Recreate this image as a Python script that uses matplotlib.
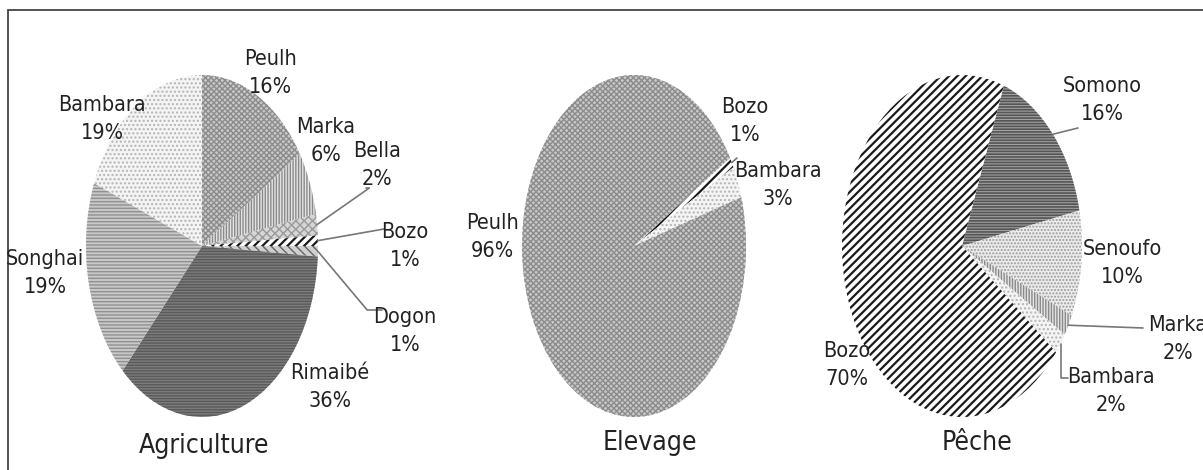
import numpy as np
import matplotlib.pyplot as plt
from matplotlib.patches import Rectangle

plt.rcParams['font.family'] = ['DejaVu Sans']
plt.rcParams['font.stretch'] = 'condensed'
plt.rcParams['hatch.linewidth'] = 1.0

# shares by ethnic group (%)
agri_labels = ['Peulh', 'Marka', 'Bella', 'Bozo', 'Dogon', 'Rimaibé', 'Songhai', 'Bambara']
agri_values = [16, 6, 2, 1, 1, 36, 19, 19]

elev_labels = ['Bozo', 'Bambara', 'Peulh']
elev_values = [1, 3, 96]

peche_labels = ['Somono', 'Senoufo', 'Marka', 'Bambara', 'Bozo']
peche_values = [16, 10, 2, 2, 70]

W, H = 1203, 470
fig = plt.figure(figsize=(W / 100, H / 100), dpi=100)
fig.patch.set_facecolor('white')

# (face, hatch, hatch colour, hatch width) per group
styles = {
    'Peulh':   ('#c8c8c8', 'xxxxxx', '#8c8c8c', 1.0),
    'Marka':   ('#e4e4e4', '||||||', '#8a8a8a', 1.0),
    'Bella':   ('#d6d6d6', 'xxxx', '#9a9a9a', 1.0),
    'Bozo':    ('#ffffff', '////', '#1a1a1a', 1.6),
    'Dogon':   ('#d0d0d0', '\\\\\\\\', '#666666', 1.0),
    'Rimaibé': ('#7c7c7c', '------', '#5a5a5a', 1.0),
    'Songhai': ('#c8c8c8', '-----', '#909090', 1.0),
    'Bambara': ('#f4f4f4', '....', '#b4b4b4', 1.0),
    'Somono':  ('#a0a0a0', '------', '#555555', 1.2),
    'Senoufo': ('#ececec', '.....', '#9a9a9a', 1.0),
}


def pie_axes(cx, cy, rx, ry):
    ax = fig.add_axes([(cx - rx) / W, (H - cy - ry) / H, 2 * rx / W, 2 * ry / H])
    ax.set_axis_off()
    return ax


def draw_pie(ax, labels, values, start):
    wedges, _ = ax.pie(values, startangle=start, counterclock=False, radius=1,
                       wedgeprops=dict(linewidth=0))
    # stretch the pie to fill the (tall) axes box
    ax.set_aspect('auto')
    ax.set_xlim(-1, 1)
    ax.set_ylim(-1, 1)
    for w, name in zip(wedges, labels):
        face, hatch, hcol, hlw = styles[name]
        w.set_facecolor(face)
        w.set_hatch(hatch)
        w.set_edgecolor(hcol)
        w.set_linewidth(0)
        if hasattr(w, 'set_hatch_linewidth'):
            w.set_hatch_linewidth(hlw)
    return wedges


def edge_point(w, r=1.0):
    a = np.deg2rad((w.theta1 + w.theta2) / 2)
    return (r * np.cos(a), r * np.sin(a))


def label(name, val, px, py):
    fig.text(px / W, 1 - py / H, '%s\n%d%%' % (name, val), ha='center', va='center',
             fontsize=15.5, color='#222222', linespacing=1.45)


def leader(ax, w, px, py, style='arc3'):
    ax.annotate('', xy=edge_point(w), xytext=(px / W, 1 - py / H),
                xycoords='data', textcoords='figure fraction',
                arrowprops=dict(arrowstyle='-', color='#777777', lw=1.2,
                                connectionstyle=style, shrinkA=0, shrinkB=0))


# Agriculture
ax1 = pie_axes(202, 246, 116, 171)
w1 = draw_pie(ax1, agri_labels, agri_values, 90)
pos1 = [(270, 73), (326, 141), (377, 165), (405, 246), (405, 331),
        (330, 387), (45, 273), (102, 119)]
for name, val, (px, py) in zip(agri_labels, agri_values, pos1):
    label(name, val, px, py)
leader(ax1, w1[2], 366, 188, 'angle,angleA=0,angleB=35')
leader(ax1, w1[3], 384, 229)
leader(ax1, w1[4], 382, 310, 'angle,angleA=0,angleB=-50')
fig.text(204 / W, 1 - 446 / H, 'Agriculture', ha='center', va='center',
         fontsize=19, color='#222222')

# Elevage
ax2 = pie_axes(634, 246, 112, 171)
w2 = draw_pie(ax2, elev_labels, elev_values, 31)
pos2 = [(745, 121), (778, 185), (492, 237)]
for name, val, (px, py) in zip(elev_labels, elev_values, pos2):
    label(name, val, px, py)
leader(ax2, w2[0], 737, 158)
fig.text(650 / W, 1 - 443 / H, 'Elevage', ha='center', va='center',
         fontsize=19, color='#222222')

# Pêche
ax3 = pie_axes(962, 246, 120, 171)
w3 = draw_pie(ax3, peche_labels, peche_values, 69.6)
pos3 = [(1102, 100), (1122, 263), (1178, 339), (1111, 391), (847, 365)]
for name, val, (px, py) in zip(peche_labels, peche_values, pos3):
    label(name, val, px, py)
leader(ax3, w3[0], 1078, 128)
leader(ax3, w3[2], 1143, 328)
leader(ax3, w3[3], 1068, 378, 'angle,angleA=0,angleB=90')
fig.text(977 / W, 1 - 443 / H, 'Pêche', ha='center', va='center',
         fontsize=19, color='#222222')

# outer frame
fig.patches.append(Rectangle((8 / W, -0.05), 1.2, 1 - 10 / H + 0.05,
                             transform=fig.transFigure, fill=False,
                             edgecolor='#444444', linewidth=1.3))

plt.savefig('out.png', dpi=100)
